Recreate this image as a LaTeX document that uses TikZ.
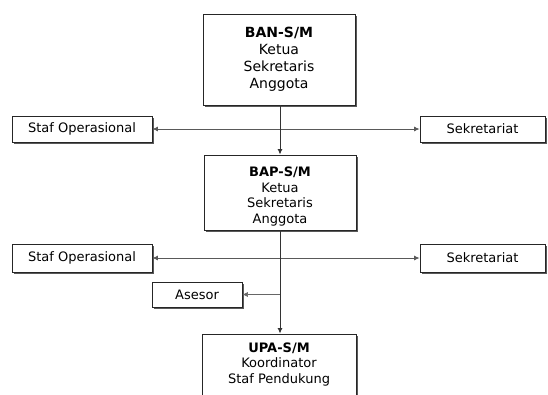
\documentclass[tikz,border=0pt]{standalone}
\usepackage{fontspec}
\setmainfont{DejaVu Sans}
\usepackage{xcolor}
\usetikzlibrary{arrows.meta,positioning,shadows}

\begin{document}
\begin{tikzpicture}[x=1pt, y=-1pt,
    unitbox/.style={draw=black!85, line width=0.9pt, fill=white, align=center,
      inner sep=0pt, font=\fontsize{13}{15.5}\selectfont,
      drop shadow={shadow xshift=1.6pt, shadow yshift=-1.6pt, fill=black!65, opacity=1}},
    sidebox/.style={unitbox, minimum height=26pt},
    link/.style={line width=0.9pt, black!80, -{Latex[length=5.5pt,width=5pt]}},
    twoway/.style={line width=0.8pt, black!65, {Latex[length=5.5pt,width=5pt]}-{Latex[length=5.5pt,width=5pt]}}]
  % Frame
  \clip (0,0) rectangle (548,394);
  \fill[white] (0,0) rectangle (548,394);

  % Main units
  \node[unitbox, minimum width=152pt, minimum height=91pt,
    font=\fontsize{14}{17}\selectfont] (ban) at (279,59.5)
    {\\[-7pt]\textbf{BAN-S/M}\\Ketua\\Sekretaris\\Anggota};
  \node[unitbox, minimum width=152pt, minimum height=75pt] (bap) at (280,192.5)
    {\rule{0pt}{18pt}\textbf{BAP-S/M}\\Ketua\\Sekretaris\\Anggota};
  \node[unitbox, minimum width=154pt, minimum height=75pt] (upa) at (279,371.5)
    {\textbf{UPA-S/M}\\Koordinator\\Staf Pendukung\\[2pt]};

  % Side units
  \node[sidebox, minimum width=140pt] (stafA) at (82,129) {Staf Operasional};
  \node[sidebox, minimum width=125pt] (sekrA) at (482.5,129) {Sekretariat};
  \node[sidebox, minimum width=140pt, minimum height=28pt] (stafB) at (82,258) {Staf Operasional};
  \node[sidebox, minimum width=125pt, minimum height=28pt] (sekrB) at (482.5,258) {Sekretariat};
  \node[sidebox, minimum width=90pt, minimum height=25pt] (asesor) at (197,294.5) {Asesor};

  % Connectors
  \draw[twoway] (stafA) -- (sekrA);
  \draw[twoway] (stafB) -- (sekrB);
  \draw[link] (ban.south -| bap.north) -- (bap.north);
  \draw[link] (bap.south) -- (upa.north -| bap.south);
  \coordinate (asjoin) at (bap.south |- asesor.east);
  \draw[link, line width=0.6pt, black!60] (asjoin) -- (asesor.east);
\end{tikzpicture}
\end{document}
